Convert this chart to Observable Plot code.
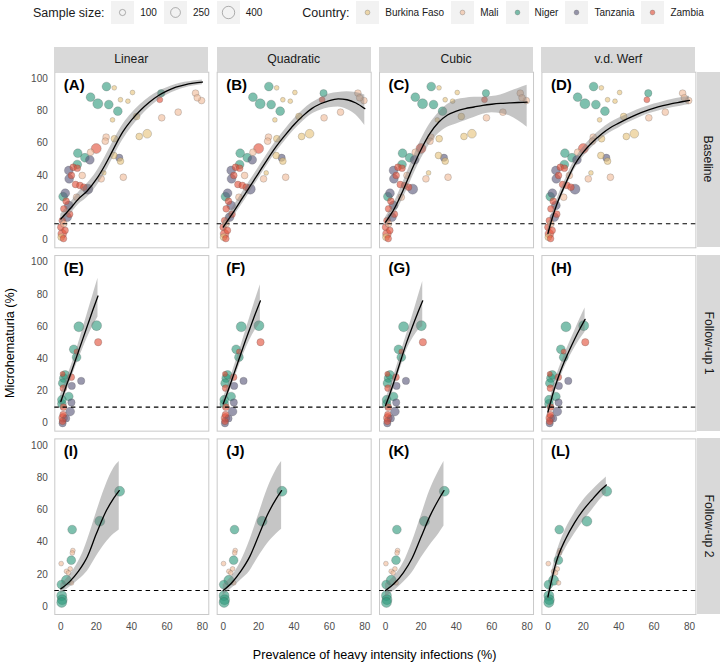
<!DOCTYPE html>
<html><head><meta charset="utf-8">
<script src="https://cdn.jsdelivr.net/npm/d3@7"></script>
<script src="https://cdn.jsdelivr.net/npm/@observablehq/plot@0.6"></script>
<style>
body{margin:0;background:#fff;font-family:"Liberation Sans",Arial,sans-serif;}
#wrap{position:relative;width:720px;height:663px;overflow:hidden;background:#fff}
#wrap > svg{position:absolute;left:0;top:0}
.strip{position:absolute;background:#D9D9D9;color:#1A1A1A;font-size:12.2px;display:flex;align-items:center;justify-content:center;white-space:nowrap}
.vstrip span{transform:rotate(90deg);display:block}
.title{position:absolute;color:#000;font-size:12.6px;white-space:nowrap}
#legend{position:absolute;top:1px;left:33px;display:flex;align-items:center;height:23px;color:#1A1A1A}
#legend .lt{font-size:12.5px;margin-right:6.7px}
#legend .key{width:23px;height:23px;background:#F2F2F2;display:flex;align-items:center;justify-content:center;margin-right:6px}
#legend .lab{font-size:10px;margin-right:7px}
</style></head>
<body><div id="wrap"></div>
<script>
// ---------- data ----------
const countries = ["Burkina Faso", "Mali", "Niger", "Tanzania", "Zambia"];
const countryColors = ["#E6C47C", "#F0BC99", "#2E9A7C", "#5A587A", "#E2503A"];
const models = ["Linear", "Quadratic", "Cubic", "v.d. Werf"];
const phases = ["Baseline", "Follow-up 1", "Follow-up 2"];
const panelLetters = ["A","B","C","D","E","F","G","H","I","J","K","L"];
const sizeBreaks = [100, 250, 400];
const xTicks = [0, 20, 40, 60, 80];
const yTicks = [0, 20, 40, 60, 80, 100];
const threshold = 10;

// points: [heavy-intensity prevalence %, microhaematuria %, sample size, country index]
const baselinePoints = [
  [25.8,95.2,200,2],[16.8,88.6,200,2],[20.9,84.5,260,2],[27.1,84.0,200,2],[32.2,79.9,200,2],
  [30.2,94.4,60,0],[33.7,87.0,60,0],[37.9,86.1,60,0],[40.5,91.5,60,0],[29.2,74.5,60,0],
  [42.8,76.6,120,0],[56.7,91.1,140,2],[55.9,87.0,95,4],[76.1,91.1,120,1],[79.5,86.5,120,1],
  [77.1,88.2,120,1],[66.3,79.3,120,1],[57.0,75.8,120,1],[48.8,65.9,200,0],[44.3,64.2,120,0],
  [25.6,63.8,120,1],[25.1,61.3,120,1],[30.3,62.8,120,0],[20.0,56.7,260,4],[16.8,54.4,120,1],
  [9.6,53.8,200,2],[13.6,51.0,200,2],[29.9,52.4,120,0],[16.4,49.7,200,3],[33.0,51.0,140,3],
  [33.7,48.9,120,0],[9.3,46.8,200,2],[7.0,45.1,120,4],[9.3,44.5,120,4],[4.5,43.1,200,3],
  [4.7,37.9,200,3],[12.1,40.0,120,1],[8.3,34.4,120,4],[10.8,33.8,120,4],[13.0,32.7,120,4],
  [15.3,31.5,260,3],[22.8,37.9,120,1],[24.3,41.6,60,0],[35.3,38.9,120,1],[1.3,26.9,200,2],
  [8.9,26.5,120,1],[4.5,21.4,200,3],[1.7,19.3,120,4],[3.6,14.1,200,3],[0.8,12.0,120,4],
  [0.0,7.9,120,4],[0.8,3.8,200,4],[0.2,1.7,120,0],[1.7,10.0,120,1],[2.4,5.9,120,4],
  [2.5,29.0,200,3],[3.0,24.0,120,4],[5.0,16.0,120,4],[1.5,0.8,120,4],[6.0,40.0,120,4]
];
const followUp1Points = [
  [10.2,59.9,260,2],[20.2,60.6,260,2],[21.1,50.3,140,4],[7.3,45.9,200,2],[8.9,44.5,70,4],
  [8.9,41.0,200,2],[11.5,26.3,140,3],[1.7,28.0,200,2],[2.5,30.0,200,2],[1.0,30.6,70,4],
  [5.9,28.6,120,4],[1.4,21.8,120,4],[6.2,23.2,140,3],[1.1,24.9,200,2],[4.5,16.6,200,2],
  [0.6,12.1,200,2],[6.0,12.9,140,3],[1.5,10.0,120,4],[5.3,7.3,200,3],[1.3,5.3,120,4],
  [1.3,3.3,200,4],[1.0,1.2,120,4],[1.0,0.0,140,3],[0.6,14.6,200,2],[3.0,3.0,140,3]
];
const followUp2Points = [
  [33.2,71.6,260,2],[22.0,53.0,260,2],[6.4,47.8,200,2],[5.9,28.8,200,2],[6.8,34.8,60,1],
  [6.5,33.3,60,1],[0.2,26.7,60,1],[5.3,23.4,60,1],[3.2,21.9,60,1],[4.3,20.9,60,1],
  [6.0,14.7,60,1],[3.2,16.3,260,2],[0.3,13.7,200,2],[0.5,6.8,260,2],[0.8,4.3,260,2],[0.5,2.6,260,2]
];

// fitted curves: [x, fit, lower, upper]
const curveLinearBaseline = [[0,13,10,16],[5,19,15.5,22.5],[10,25.5,22,29.5],[15,30.5,26.5,35],[20,37.5,33,42],[25,46.5,41.5,51.5],[30,57,52,62],[35,67,62,71.5],[40,74.5,70,78.5],[45,80.5,76.5,84],[50,85.5,82,88.5],[55,89.5,86.5,92],[60,92.5,90,94.5],[65,94.8,92.5,96.5],[70,96.3,94.3,97.8],[75,97.3,95.5,98.7],[80,98,96.3,99.3]];
const curveQuadraticBaseline = [[0,8,5,11.5],[5,16,13,19.5],[10,24.5,21,28],[15,33,29.5,36.5],[20,41.5,38,45],[25,50,46.5,53.5],[30,58,54.5,61.5],[35,65,61.5,68.5],[40,71.5,68,75],[45,77,73.5,80.5],[50,81.5,78,85],[55,84.5,80.5,88],[60,86.5,82,90.5],[65,87.5,82.5,91.5],[70,87,81,92],[75,85,77.5,91.5],[80,81.5,71,90]];
const curveCubicBaseline = [[0,11,8,14],[5,19.5,15.5,23.5],[10,31,26,36],[15,44,38.5,49.5],[20,56,50,62],[25,66,59.5,72],[30,73,66,79],[35,77.5,70,84],[40,80,72,87],[45,81.5,74,88],[50,82.5,76,88.5],[55,83.5,78,88.5],[60,84.2,79,89],[65,84.7,78.5,90],[70,85,77,92],[75,85.3,74,94],[80,85.5,70,96]];
const curveWerfBaseline = [[0,4,1.5,7],[2,12,9,15],[5,22,19,25],[10,35,32,38],[15,46.5,43.5,49.5],[20,54.5,51.5,57.5],[25,60.5,57.5,63.5],[30,65.5,62.5,68.5],[35,69.5,66.5,72.5],[40,72.5,69.5,75.5],[45,75.3,72.5,78],[50,77.8,75,80.5],[55,80,77.5,82.5],[60,81.8,79.3,84.3],[65,83.3,80.8,85.8],[70,84.6,82,87.2],[75,85.6,83,88.2],[80,86.6,84,89.2]];
const curveLinearFU1 = [[0,13.5,10,18],[3,23,19,27],[6,32,28,36],[9,41.5,37,46],[12,51,45,57],[15,60.5,53,68],[18,70,60,79],[21,79,66,90]];
const curveQuadraticFU1 = [[0,12,9,15.5],[3,21,17.5,24.5],[6,30.5,26.5,34.5],[9,40,35.5,44.5],[12,49.5,44,55],[15,58.5,51.5,65.5],[18,67.5,57.5,76],[21,76,62,86]];
const curveCubicFU1 = [[0,11,7.5,14.5],[3,20,16,24],[6,30,26,34],[9,40.5,36,45],[12,50.5,45.5,55.5],[15,59.5,52,66],[18,68,57,77],[21,76,60,88]];
const curveWerfFU1 = [[0,7,4,10],[1.5,13,10,16],[3,19,15.5,22.5],[6,29,25,33],[9,37.5,33.5,41.5],[12,45,40.5,49.5],[15,52,46.5,57],[18,58.5,52,64.5],[21,64.5,56.5,71.5]];
const curveLinearFU2 = [[0,11,8,14],[5,15.5,12,19.5],[10,22,16.5,28],[13,27,19.5,35],[15,31,22,41],[20,45,31,58],[25,58,39,74],[30,67.5,45,86],[33,72,47.5,90]];
const curveQuadraticFU2 = [[0,10,7,13.5],[5,15,11.5,19],[10,22,16.5,28],[15,31,22,41],[20,44,31,57],[25,57,39,73],[30,67,45,85],[33,72,48,90]];
const curveCubicFU2 = [[0,10,6,14],[5,14.5,10,19],[10,21,15,27],[15,30,21,40],[20,43,30,56],[25,56,38,72],[30,66.5,45,84],[33,72,50,90]];
const curveWerfFU2 = [[0,6,3,9],[2,16,12,20],[4,25,20,30],[6,32,27,37],[10,42,36,48],[15,52,45,58],[20,60,53,66],[25,66.5,60,72],[30,72.5,67,77.5],[33,75.5,70,80.5]];

// ---------- tables built from the arrays ----------
const phasePoints = [baselinePoints, followUp1Points, followUp2Points];
const curveSets = [
  [curveLinearBaseline, curveQuadraticBaseline, curveCubicBaseline, curveWerfBaseline],
  [curveLinearFU1, curveQuadraticFU1, curveCubicFU1, curveWerfFU1],
  [curveLinearFU2, curveQuadraticFU2, curveCubicFU2, curveWerfFU2]
];
const pointRows = [], curveRows = [], labelRows = [];
phases.forEach((phase, pi) => {
  models.forEach((model, mi) => {
    phasePoints[pi].forEach(([x, y, n, c]) => pointRows.push({phase, model, x, y, n, country: countries[c]}));
    curveSets[pi][mi].forEach(([x, fit, lo, hi]) => curveRows.push({phase, model, x, fit, lo, hi}));
    labelRows.push({phase, model, label: `(${panelLetters[pi * 4 + mi]})`});
  });
});

// ---------- layout ----------
const W = 720, H = 663;
const ML = 54.3, MR = 24.6, MT = 71.7, MB = 49;
const panelW = 154, panelH = 175.6;
const stepX = (W - ML - MR - panelW) / 3, stepY = (H - MT - MB - panelH) / 2;
const padX = (stepX - panelW) / stepX, padY = (stepY - panelH) / stepY;
const font = "'Liberation Sans', Arial, sans-serif";

const chart = Plot.plot({
  width: W, height: H,
  marginLeft: ML, marginRight: MR, marginTop: MT, marginBottom: MB,
  style: {fontFamily: font, background: "transparent", overflow: "visible"},
  x: {domain: [-3.4, 83.6]},
  y: {domain: [-4.9, 104.1]},
  fx: {domain: models, paddingInner: padX, paddingOuter: 0, round: false, axis: null},
  fy: {domain: phases, paddingInner: padY, paddingOuter: 0, round: false, axis: null},
  r: {type: "sqrt", domain: [0, 400], range: [0, 6.2]},
  color: {domain: countries, range: countryColors},
  marks: [
    Plot.frame({stroke: "#C9C9C9", strokeWidth: 1}),
    Plot.dot(pointRows, {x: "x", y: "y", r: "n", fill: "country", fx: "model", fy: "phase",
      fillOpacity: 0.62, stroke: "#4D4D4D", strokeOpacity: 0.4, strokeWidth: 0.6}),
    Plot.ruleY([threshold], {stroke: "#000", strokeWidth: 1.1, strokeDasharray: "4.5,3.8"}),
    Plot.areaY(curveRows, {x: "x", y1: "lo", y2: "hi", fx: "model", fy: "phase",
      fill: "#7F7F7F", fillOpacity: 0.45, curve: "monotone-x"}),
    Plot.line(curveRows, {x: "x", y: "fit", fx: "model", fy: "phase", stroke: "#000",
      strokeWidth: 1.3, curve: "monotone-x"}),
    Plot.text(labelRows, {fx: "model", fy: "phase", text: "label", frameAnchor: "top-left",
      textAnchor: "start", lineAnchor: "middle", dx: 9, dy: 12.5, fontSize: 15, fontWeight: "bold", fill: "#000"}),
    Plot.axisX({ticks: xTicks, tickSize: 0, tickPadding: 8, fontSize: 10, fill: "#4D4D4D", label: null}),
    Plot.axisY({ticks: yTicks, tickSize: 0, tickPadding: 7, fontSize: 10, fill: "#4D4D4D", label: null})
  ]
});

const wrap = document.getElementById("wrap");
wrap.appendChild(chart);

// strips
models.forEach((m, i) => {
  const d = document.createElement("div");
  d.className = "strip";
  Object.assign(d.style, {left: (ML + i * stepX) + "px", top: (MT - 25) + "px", width: panelW + "px", height: "25px"});
  d.textContent = m;
  wrap.appendChild(d);
});
phases.forEach((p, j) => {
  const d = document.createElement("div");
  d.className = "strip vstrip";
  Object.assign(d.style, {left: (W - MR + 1.2) + "px", top: (MT + j * stepY) + "px", width: (MR - 1.2) + "px", height: panelH + "px"});
  const s = document.createElement("span"); s.textContent = p; d.appendChild(s);
  wrap.appendChild(d);
});

// axis titles
const xt = document.createElement("div");
xt.className = "title"; xt.textContent = "Prevalence of heavy intensity infections (%)";
wrap.appendChild(xt);
xt.style.left = (ML + (W - ML - MR) / 2 - xt.offsetWidth / 2) + "px";
xt.style.top = (655 - xt.offsetHeight / 2) + "px";
const yt = document.createElement("div");
yt.className = "title"; yt.textContent = "Microhematuria (%)";
wrap.appendChild(yt);
yt.style.left = (10 - yt.offsetWidth / 2) + "px";
yt.style.top = (MT + (H - MT - MB) / 2 - yt.offsetHeight / 2) + "px";
yt.style.transform = "rotate(-90deg)";

// legend
const rScale = chart.scale("r"), cScale = chart.scale("color");
const lg = document.createElement("div"); lg.id = "legend";
const add = (cls, txt) => { const e = document.createElement("div"); e.className = cls; if (txt) e.textContent = txt; lg.appendChild(e); return e; };
const circle = (r, fill, stroke, fo, so) => `<svg width="23" height="23"><circle cx="11.5" cy="11.5" r="${r}" fill="${fill}" fill-opacity="${fo}" stroke="${stroke}" stroke-opacity="${so}" stroke-width="0.7"/></svg>`;
add("lt", "Sample size:");
sizeBreaks.forEach(b => {
  add("key").innerHTML = circle(rScale.apply(b), "none", "#4D4D4D", 0, 0.6);
  add("lab", String(b));
});
const sp = add("sp"); sp.style.width = "33px";
add("lt", "Country:");
countries.forEach(c => {
  add("key").innerHTML = circle(2.4, cScale.apply(c), "#4D4D4D", 0.62, 0.4);
  add("lab", c);
});
wrap.appendChild(lg);
</script></body></html>
